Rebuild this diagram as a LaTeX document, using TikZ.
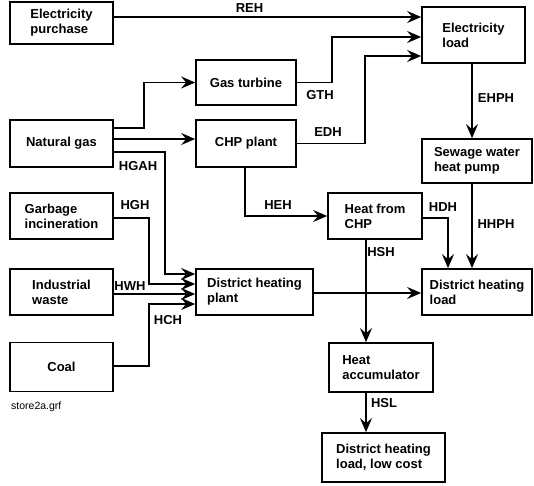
\documentclass[tikz,border=0pt]{standalone}
\usepackage{fontspec}
\setmainfont{Liberation Sans}
\usetikzlibrary{arrows.meta}
\tikzset{
  box/.style={draw, line width=1.7pt, align=left, font=\bfseries\fontsize{13}{15}\selectfont, inner sep=0pt},
  arr/.style={line width=1.7pt, -{Stealth[length=14pt,width=12pt,inset=5pt]}},
  lab/.style={font=\bfseries\fontsize{13}{15}\selectfont, inner sep=0pt},
}
\begin{document}
\begin{tikzpicture}[x=1pt,y=-1pt]
\useasboundingbox (0,0) rectangle (534,485);
% boxes
\node[box, minimum width=103pt, minimum height=42pt] (ep) at (61.5,23) {Electricity\\purchase};
\node[box, minimum width=103pt, minimum height=47pt] (ng) at (61.5,143.5) {Natural gas};
\node[box, minimum width=100pt, minimum height=45pt] (gt) at (246,82.5) {Gas turbine};
\node[box, minimum width=100pt, minimum height=47pt] (chp) at (246,143.5) {CHP plant};
\node[box, minimum width=103pt, minimum height=56pt] (el) at (473.5,35) {Electricity\\load};
\node[box, minimum width=110pt, minimum height=44pt] (sw) at (477,161) {Sewage water\\heat pump};
\node[box, minimum width=103pt, minimum height=46pt] (gi) at (61.5,216) {Garbage\\incineration};
\node[box, minimum width=103pt, minimum height=46pt] (iw) at (61.5,292) {Industrial\\waste};
\node[box, minimum width=117pt, minimum height=46pt] (dhp) at (254.5,292) {District heating\\plant};
\node[box, minimum width=94pt, minimum height=46pt] (hfc) at (375,216) {Heat from\\CHP};
\node[box, minimum width=110pt, minimum height=46pt] (dhl) at (477,292) {District heating\\load};
\node[box, minimum width=103pt, minimum height=49pt] (coal) at (61.5,367) {Coal};
\node[box, minimum width=104pt, minimum height=49pt] (ha) at (381,367.5) {Heat\\accumulator};
\node[box, minimum width=123pt, minimum height=49pt] (lc) at (383.5,457.5) {District heating\\load, low cost};
\node[font=\fontsize{10.5}{12}\selectfont, anchor=west, inner sep=0pt] (fn) at (11,407) {store2a.grf};
% connectors
\draw[arr] (ep.east |- 0,17) -- (el.west |- 0,17);
\draw[arr] (gt.east) -- (332,82.5) |- (el.west |- 0,37);
\draw[arr] (chp.east) -- (365,143.5) |- (el.west |- 0,56);
\draw[arr] (ng.east |- 0,128) -- (144,128) |- (gt.west);
\draw[arr] (ng.east |- 0,139) -- (chp.west |- 0,139);
\draw[arr] (ng.east |- 0,152) -- (165,152) |- (dhp.west |- 0,274);
\draw[arr] (gi.east |- 0,218) -- (149,218) |- (dhp.west |- 0,284);
\draw[arr] (iw.east |- 0,294) -- (dhp.west |- 0,294);
\draw[arr] (coal.east |- 0,366) -- (149,366) |- (dhp.west |- 0,304);
\draw[arr] (chp.south -| 245,0) |- (hfc.west);
\draw[arr] (el.south -| 472,0) -- (sw.north -| 472,0);
\draw[arr] (sw.south -| 472,0) -- (dhl.north -| 472,0);
\draw[arr] (hfc.east |- 0,218) -| (dhl.north -| 448,0);
\draw[arr] (dhp.east |- 0,293) -- (dhl.west |- 0,293);
\draw[arr] (hfc.south -| 366,0) -- (ha.north -| 366,0);
\draw[arr] (ha.south -| 366,0) -- (lc.north -| 366,0);
% labels
\node[lab] (lreh) at (249.5,8) {REH};
\node[lab] (lgth) at (320,95) {GTH};
\node[lab] (ledh) at (328,132) {EDH};
\node[lab] (lehph) at (496,98) {EHPH};
\node[lab] (lhgah) at (138,166) {HGAH};
\node[lab] (lhgh) at (135,205) {HGH};
\node[lab] (lhwh) at (130,286) {HWH};
\node[lab] (lhch) at (168,320) {HCH};
\node[lab] (lheh) at (278,205) {HEH};
\node[lab] (lhdh) at (443,207) {HDH};
\node[lab] (lhhph) at (496,224) {HHPH};
\node[lab] (lhsh) at (381,252) {HSH};
\node[lab] (lhsl) at (384,403) {HSL};
\end{tikzpicture}
\end{document}
